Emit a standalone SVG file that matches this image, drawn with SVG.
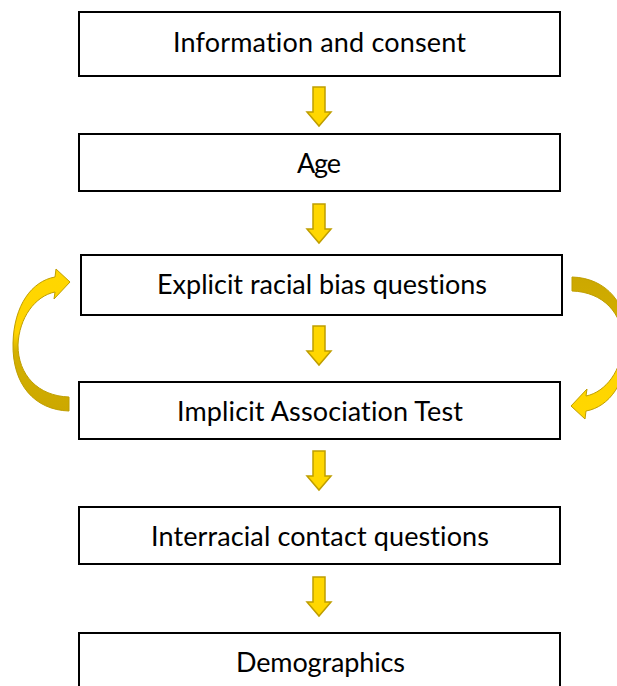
<svg xmlns="http://www.w3.org/2000/svg" width="617" height="686" viewBox="0 0 617 686">
<style>
.box{fill:#fff;stroke:#000;stroke-width:2}
.lbl{font-family:"Lato","Open Sans","Liberation Sans",sans-serif;font-size:27px;fill:#000;text-anchor:middle;font-variant-ligatures:none}
.dn{fill:#FFD700;stroke:#BF9E00;stroke-width:1.5;stroke-linejoin:miter}
.crv{fill:url(#g);stroke:#BF9E00;stroke-width:1}
</style>
<defs>
<linearGradient id="g" x1="0" y1="0" x2="0" y2="1">
<stop offset="0" stop-color="#FFD700"/>
<stop offset="0.45" stop-color="#FFD400"/>
<stop offset="0.58" stop-color="#D4B000"/>
<stop offset="1" stop-color="#CCA800"/>
</linearGradient>
<path id="dnarrow" d="M-6,0 L6,0 L6,25 L12,25 L0,39 L-12,25 L-6,25 Z"/>
<path id="curve" d="M69,411 C35,410 12,385 13,343 C14,305 32,281 55,277 L56,269 L70,282 L54,299 L55,292 C35,296 19,318 18,345 C18,375 38,396 69,397 Z"/>
</defs>
<g id="connectors">
<use href="#dnarrow" class="dn" x="319" y="87"/>
<use href="#dnarrow" class="dn" x="319" y="204"/>
<use href="#dnarrow" class="dn" x="319" y="326"/>
<use href="#dnarrow" class="dn" x="319" y="451"/>
<use href="#dnarrow" class="dn" x="319" y="577"/>
<use href="#curve" class="crv"/>
<use href="#curve" class="crv" transform="rotate(180 320.5 344)"/>
</g>
<g id="n1"><rect class="box" x="79" y="12" width="481" height="64"/><text class="lbl" x="319.5" y="52" textLength="293">Information and consent</text></g>
<g id="n2"><rect class="box" x="79" y="134" width="481" height="57"/><text class="lbl" x="319" y="173" textLength="44">Age</text></g>
<g id="n3"><rect class="box" x="81" y="255" width="481" height="60"/><text class="lbl" x="322" y="294" textLength="330">Explicit racial bias questions</text></g>
<g id="n4"><rect class="box" x="79" y="382" width="481" height="57"/><text class="lbl" x="320" y="421" textLength="286">Implicit Association Test</text></g>
<g id="n5"><rect class="box" x="79" y="507" width="481" height="57"/><text class="lbl" x="320" y="546" textLength="338">Interracial contact questions</text></g>
<g id="n6"><rect class="box" x="79" y="633" width="481" height="70"/><text class="lbl" x="320.5" y="672" textLength="169">Demographics</text></g>
</svg>
